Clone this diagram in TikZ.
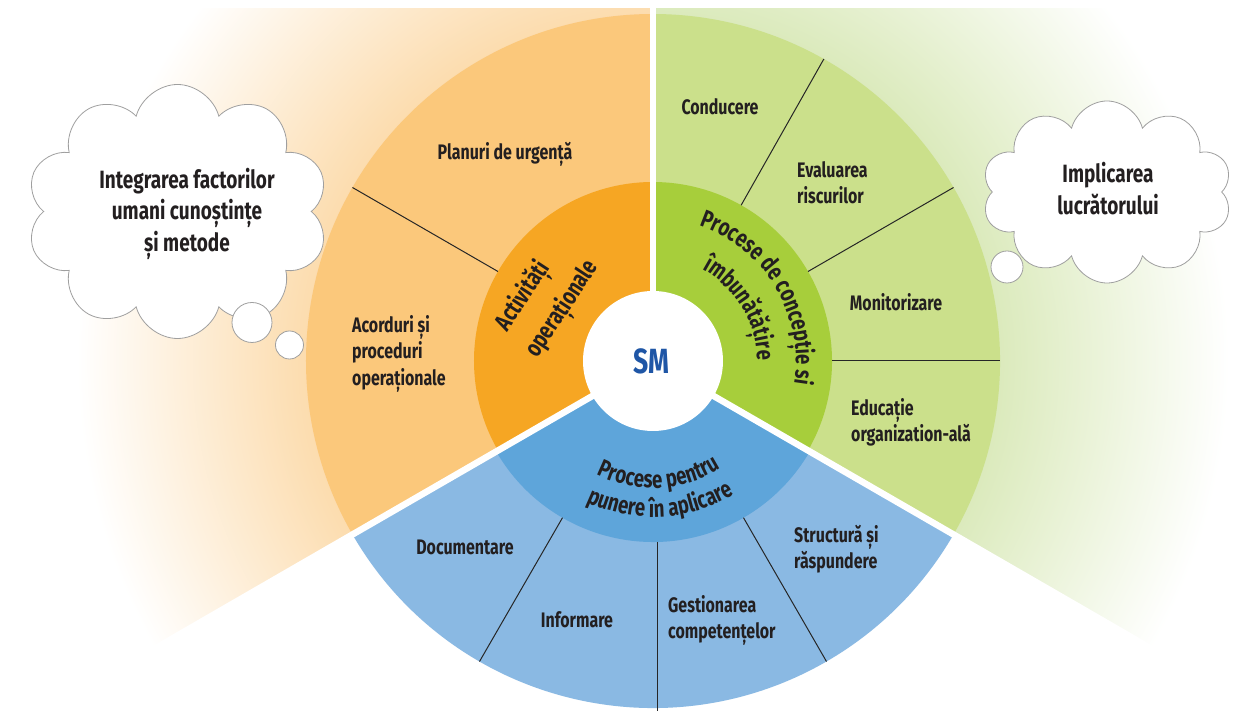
\documentclass[tikz,border=0pt]{standalone}
\usepackage{fontspec}
\setmainfont{Fira Sans}[FakeStretch=0.76]
\usetikzlibrary{shapes.symbols,decorations.text}
\definecolor{orout}{HTML}{FBC87B}
\definecolor{orin}{HTML}{F6A623}
\definecolor{grout}{HTML}{CBE08B}
\definecolor{grin}{HTML}{A7CE3B}
\definecolor{blout}{HTML}{8AB9E3}
\definecolor{blin}{HTML}{5EA5DA}
\definecolor{smblue}{HTML}{1F56A6}
\definecolor{txt}{HTML}{231F20}
\definecolor{orbg}{HTML}{FCDCAE}
\definecolor{grbg}{HTML}{DBEABC}
\pgfdeclareradialshading{orfade}{\pgfpoint{0bp}{0bp}}{color(0bp)=(orbg); color(14.4bp)=(orbg); color(24bp)=(white); color(50bp)=(white)}
\pgfdeclareradialshading{grfade}{\pgfpoint{0bp}{0bp}}{color(0bp)=(grbg); color(14.4bp)=(grbg); color(24bp)=(white); color(50bp)=(white)}
\newcommand\lblf{\bfseries\fontsize{21}{26.5}\selectfont}
\newcommand\ringf{\bfseries\fontsize{24.5}{28}\selectfont}
\newcommand\cloudf{\bfseries\fontsize{25}{31.5}\selectfont}
\begin{document}
\begin{tikzpicture}[x=1pt,y=1pt,
  lbl/.style={font=\lblf, text=txt, inner sep=0pt, align=left},
  ringpath/.style={decorate, decoration={text along path, text align=center, text={|\color{txt}\ringf|#1}}},
  divider/.style={draw=black!85, line width=1pt},
  sepline/.style={draw=white, line width=6.5pt},
  cloudnode/.style={cloud, cloud puffs=10, cloud ignores aspect, draw=gray!75, line width=0.8pt, fill=white},
  bubble/.style={circle, draw=gray!75, line width=0.8pt, fill=white, inner sep=0pt}]
\useasboundingbox (-653,-350) rectangle (592,361);
\fill[white] (-653,-350) rectangle (592,361);
% background fans
\begin{scope}
  \clip (-653,-350) rectangle (592,352);
  \begin{scope}
    \clip (0,0) -- (90:620) arc[start angle=90,end angle=210,radius=620] -- cycle;
    \shade[shading=orfade] (0,0) circle (600);
  \end{scope}
  \begin{scope}
    \clip (0,0) -- (-30:620) arc[start angle=-30,end angle=90,radius=620] -- cycle;
    \shade[shading=grfade] (0,0) circle (600);
  \end{scope}
\end{scope}
% outer ring
\fill[orout] (0,0) -- (90:347) arc[start angle=90,end angle=210,radius=347] -- cycle;
\fill[grout] (0,0) -- (-30:347) arc[start angle=-30,end angle=90,radius=347] -- cycle;
\fill[blout] (0,0) -- (210:347) arc[start angle=210,end angle=330,radius=347] -- cycle;
% inner ring
\fill[orin] (0,0) -- (90:179) arc[start angle=90,end angle=210,radius=179] -- cycle;
\fill[grin] (0,0) -- (-30:179) arc[start angle=-30,end angle=90,radius=179] -- cycle;
\fill[blin] (0,0) -- (210:181) arc[start angle=210,end angle=330,radius=181] -- cycle;
% dividers
\draw[divider] (150:179) -- (150:347);
\draw[divider] (60.5:179) -- (60.5:347);
\draw[divider] (30:179) -- (30:347);
\draw[divider] (0:179) -- (0:347);
\draw[divider] (240:181) -- (240:347);
\draw[divider] (300:181) -- (300:347);
\draw[divider] (5,-181) -- (5,-350);
% separators
\draw[sepline] (0,0) -- (90:640);
\draw[sepline] (0,0) -- (210:640);
\draw[sepline] (0,0) -- (330:640);
% centre
\fill[white] (0,0) circle (70);
\node[font=\bfseries\fontsize{35}{40}\selectfont, text=smblue] (sm) at (-2,0) {SM};
% ring texts
\path[ringpath={Activități}] (-168,-6) -- (-80,128);
\path[ringpath={operaționale}] (-129,-19) -- (-41,115);
\path[ringpath={Procese de concepție si}]
  (101:143) arc[start angle=101,end angle=-39,radius=143];
\path[ringpath={îmbunătățire}]
  (101:104) arc[start angle=101,end angle=-39,radius=104];
\path[ringpath={Procese pentru}]
  (203:127) arc[start angle=203,end angle=343,radius=127];
\path[ringpath={punere în aplicare}]
  (203:156) arc[start angle=203,end angle=343,radius=156];
% outer labels
\node[lbl] (plan) at (-148,207) {Planuri de urgență};
\node[lbl, anchor=west] (acord) at (-301,7.5) {Acorduri și\\proceduri\\operaționale};
\node[lbl] (cond) at (67,254) {Conducere};
\node[lbl, anchor=west] (eval) at (144,178.5) {Evaluarea\\riscurilor};
\node[lbl] (mon) at (243,59) {Monitorizare};
\node[lbl, anchor=west] (edu) at (198,-61.5) {Educație\\organization-ală};
\node[lbl] (doc) at (-188,-186) {Documentare};
\node[lbl] (info) at (-76,-259) {Informare};
\node[lbl, anchor=west] (gest) at (15,-259.5) {Gestionarea\\competențelor};
\node[lbl, anchor=west] (struct) at (141,-188) {Structură și\\răspundere};
% clouds
\node[cloudnode, minimum width=302pt, minimum height=254pt] (c1) at (-475.5,149.5) {};
\node[bubble, minimum size=40pt] (b1) at (-401,38.5) {};
\node[bubble, minimum size=28pt] (b2) at (-363.5,16) {};
\node[font=\cloudf, align=center, text=txt] (t1) at (-466,147.5) {Integrarea factorilor\\umani cunoștințe\\și metode};
\node[cloudnode, minimum width=250pt, minimum height=182pt] (c2) at (454,169) {};
\node[bubble, minimum size=32pt] (b3) at (354,94) {};
\node[font=\cloudf, align=center, text=txt] (t2) at (455,172.5) {Implicarea\\lucrătorului};
\end{tikzpicture}
\end{document}
